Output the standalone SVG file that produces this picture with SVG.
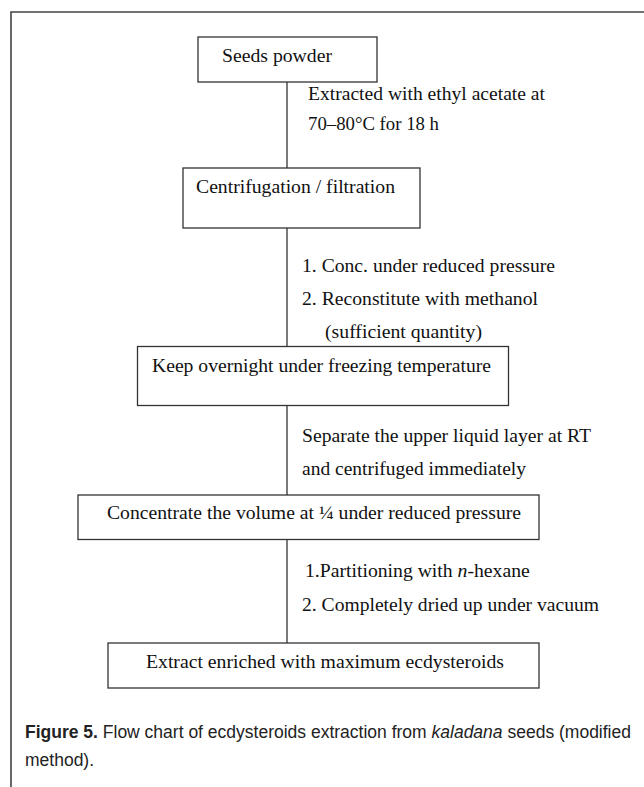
<svg xmlns="http://www.w3.org/2000/svg" width="644" height="787" viewBox="0 0 644 787">
  <style>
    .box { fill: #ffffff; stroke: #333333; stroke-width: 1.3; }
    .t { font-family: "Liberation Serif", "Times New Roman", serif; font-size: 19.7px; fill: #111111; }
    .cap { font-family: "Liberation Sans", Arial, sans-serif; font-size: 17.5px; fill: #222222; }
    .conn { stroke: #333333; stroke-width: 1.3; fill: none; }
    .frame { stroke: #444444; stroke-width: 1.6; fill: none; }
  </style>
  <rect x="0" y="0" width="644" height="787" fill="#ffffff"/>
  <path class="frame" d="M11,787 V12 H644"/>

  <g id="connectors">
    <line class="conn" x1="287" y1="82" x2="287" y2="168"/>
    <line class="conn" x1="287" y1="228" x2="287" y2="346.5"/>
    <line class="conn" x1="287" y1="405.5" x2="287" y2="495"/>
    <line class="conn" x1="287" y1="539.5" x2="287" y2="643"/>
  </g>

  <g id="edge-labels">
    <text class="t" x="308" y="100" textLength="237" lengthAdjust="spacingAndGlyphs">Extracted with ethyl acetate at</text>
    <text class="t" x="308" y="130" textLength="131" lengthAdjust="spacingAndGlyphs">70–80°C for 18 h</text>
    <text class="t" x="302" y="272" textLength="253" lengthAdjust="spacingAndGlyphs">1. Conc. under reduced pressure</text>
    <text class="t" x="302" y="305" textLength="236" lengthAdjust="spacingAndGlyphs">2. Reconstitute with methanol</text>
    <text class="t" x="325" y="338" textLength="157" lengthAdjust="spacingAndGlyphs">(sufficient quantity)</text>
    <text class="t" x="302" y="442" textLength="289" lengthAdjust="spacingAndGlyphs">Separate the upper liquid layer at RT</text>
    <text class="t" x="302" y="475" textLength="224" lengthAdjust="spacingAndGlyphs">and centrifuged immediately</text>
    <text class="t" x="305" y="577">1.Partitioning with <tspan font-style="italic">n</tspan>-hexane</text>
    <text class="t" x="302" y="611" textLength="297" lengthAdjust="spacingAndGlyphs">2. Completely dried up under vacuum</text>
  </g>

  <g id="node-seeds">
    <rect class="box" x="198" y="37" width="179" height="45"/>
    <text class="t" x="222" y="62" textLength="110" lengthAdjust="spacingAndGlyphs">Seeds powder</text>
  </g>

  <g id="node-centrifugation">
    <rect class="box" x="183" y="168" width="237" height="60"/>
    <text class="t" x="196" y="193" textLength="199" lengthAdjust="spacingAndGlyphs">Centrifugation / filtration</text>
  </g>

  <g id="node-keep">
    <rect class="box" x="137.5" y="346.5" width="371" height="59"/>
    <text class="t" x="152" y="372" textLength="339" lengthAdjust="spacingAndGlyphs">Keep overnight under freezing temperature</text>
  </g>

  <g id="node-concentrate">
    <rect class="box" x="78" y="495" width="461" height="44.5"/>
    <text class="t" x="107" y="519" textLength="414" lengthAdjust="spacingAndGlyphs">Concentrate the volume at ¼ under reduced pressure</text>
  </g>

  <g id="node-extract">
    <rect class="box" x="108" y="643" width="431" height="45"/>
    <text class="t" x="146" y="668" textLength="358" lengthAdjust="spacingAndGlyphs">Extract enriched with maximum ecdysteroids</text>
  </g>

  <g id="caption">
    <text class="cap" x="25" y="738"><tspan font-weight="bold">Figure 5.</tspan> Flow chart of ecdysteroids extraction from <tspan font-style="italic">kaladana</tspan> seeds (modified</text>
    <text class="cap" x="25" y="766">method).</text>
  </g>
</svg>
